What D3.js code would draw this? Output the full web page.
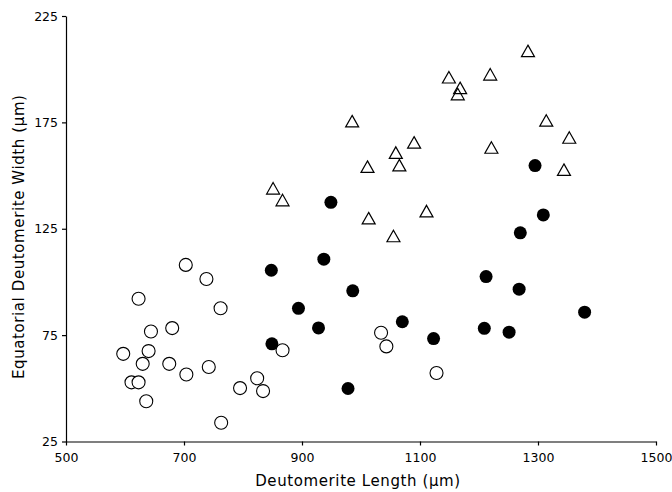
<!DOCTYPE html>
<html>
<head>
  <script src='https://d3js.org/d3.v7.min.js'></script>
  <style>
    body { margin: 0; background: #fff; }
    .axis text { font-family: 'DejaVu Sans', sans-serif; font-size: 12.5px; fill: #000; }
    .axis path, .axis line { stroke: #000; stroke-width: 1.2; }
  </style>
</head>
<body>
  <svg id="canvas" width="672" height="492"></svg>
  <script>
    // open circles
    const openLen = [703, 738, 623, 762, 680, 644, 597, 640, 630, 675, 742, 704, 611, 623, 636, 795, 824, 834, 867, 763, 1034, 1043, 1128];
    const openWid = [108, 101.4, 92.1, 87.6, 78.3, 76.7, 66.2, 67.5, 61.5, 61.5, 60, 56.5, 52.8, 52.8, 43.9, 50.1, 54.7, 48.7, 67.9, 33.8, 76.1, 69.7, 57.2];

    // filled circles
    const filledLen = [949, 1295, 1309, 1270, 848, 937, 894, 928, 849, 986, 1212, 1268, 1379, 1070, 1209, 1251, 1123, 978];
    const filledWid = [137.4, 154.7, 131.5, 123.1, 105.5, 110.7, 87.6, 78.4, 70.9, 95.8, 102.5, 96.6, 85.8, 81.3, 78.2, 76.4, 73.4, 49.9];

    // triangles
    const triLen = [1283, 1149, 1219, 1168, 1164, 985, 1314, 1353, 1090, 1059, 1065, 1011, 1221, 1344, 1111, 1013, 1055, 851, 867];
    const triWid = [208.6, 196.2, 197.6, 191.2, 188.3, 175.6, 175.9, 167.9, 165.6, 160.8, 154.9, 154.2, 163.2, 152.8, 133.3, 130, 121.6, 144, 138.5];

    const xTicks = [500, 700, 900, 1100, 1300, 1500];
    const yTicks = [25, 75, 125, 175, 225];

    const svg = d3.select('svg#canvas');
    const margins = { top: 16, right: 16, bottom: 51, left: 66 };
    const width = 672, height = 492;

    const xScale = d3.scaleLinear().domain([500, 1500]).range([margins.left, width - margins.right]);
    const yScale = d3.scaleLinear().domain([25, 225]).range([height - margins.bottom + 0.5, margins.top]);

    // axes
    svg.append('g')
      .attr('class', 'axis')
      .attr('transform', `translate(0, ${yScale(25)})`)
      .call(d3.axisBottom(xScale).tickValues(xTicks).tickFormat(d3.format('d'))
        .tickSize(4).tickSizeOuter(0).tickPadding(8))
      .selectAll('text').attr('dy', '0.71em');

    svg.append('g')
      .attr('class', 'axis')
      .attr('transform', `translate(${xScale(500)}, 0)`)
      .call(d3.axisLeft(yScale).tickValues(yTicks).tickFormat(d3.format('d'))
        .tickSize(4).tickSizeOuter(0).tickPadding(4));

    // markers
    const r = 6.5;
    svg.append('g').selectAll('circle.open')
      .data(openLen.map((d, i) => [d, openWid[i]]))
      .join('circle')
      .attr('cx', d => xScale(d[0]))
      .attr('cy', d => yScale(d[1]))
      .attr('r', r)
      .attr('fill', '#fff')
      .attr('stroke', '#000')
      .attr('stroke-width', 1.1);

    svg.append('g').selectAll('circle.filled')
      .data(filledLen.map((d, i) => [d, filledWid[i]]))
      .join('circle')
      .attr('cx', d => xScale(d[0]))
      .attr('cy', d => yScale(d[1]))
      .attr('r', r)
      .attr('fill', '#000');

    // triangle centred on its bounding box
    const tw = 13, th = 11.5;
    svg.append('g').selectAll('path')
      .data(triLen.map((d, i) => [d, triWid[i]]))
      .join('path')
      .attr('d', d => {
        const cx = xScale(d[0]), cy = yScale(d[1]);
        return `M${cx},${cy - th / 2}L${cx + tw / 2},${cy + th / 2}L${cx - tw / 2},${cy + th / 2}Z`;
      })
      .attr('fill', 'none')
      .attr('stroke', '#000')
      .attr('stroke-width', 1.2);

    // axis titles
    svg.append('text')
      .attr('x', (xScale(500) + xScale(1500)) / 2 - 3)
      .attr('y', 486)
      .attr('text-anchor', 'middle')
      .style('font-family', 'DejaVu Sans, sans-serif')
      .style('font-size', '15px')
      .style('letter-spacing', '0.6px')
      .text('Deutomerite Length (μm)');

    svg.append('text')
      .attr('transform', `translate(24, ${(yScale(25) + yScale(225)) / 2 + 8}) rotate(-90)`)
      .attr('text-anchor', 'middle')
      .style('font-family', 'DejaVu Sans, sans-serif')
      .style('font-size', '15px')
      .style('letter-spacing', '0.6px')
      .text('Equatorial Deutomerite Width (μm)');
  </script>
</body>
</html>
